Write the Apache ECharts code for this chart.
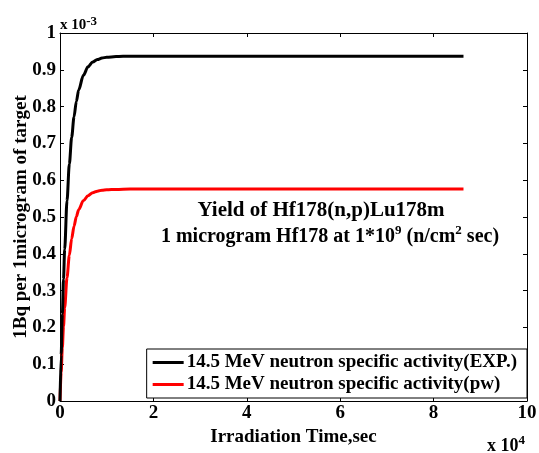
<!DOCTYPE html>
<html>
<head>
<meta charset="utf-8">
<script src="https://cdn.jsdelivr.net/npm/echarts@6/dist/echarts.min.js"></script>
<style>
  html, body { margin: 0; padding: 0; background: #fff; }
  #chart { width: 539px; height: 453px; }
</style>
</head>
<body>
<div id="chart"></div>
<script>
// Irradiation time, seconds
const timeSec = [0, 250, 500, 750, 1000, 1500, 2000, 2500, 3000, 3500, 4000, 5000, 6000, 7000,
  8000, 9000, 10000, 12000, 15000, 20000, 30000, 40000, 50000, 60000, 70000, 80000, 86400];

// Specific activity, in units of 10^-3 Bq per microgram of target
const activityExp = [0, 0.126, 0.236, 0.331, 0.412, 0.544, 0.644, 0.717, 0.772, 0.814, 0.845, 0.885, 0.908, 0.921,
  0.928, 0.932, 0.934, 0.936, 0.937, 0.937, 0.937, 0.937, 0.937, 0.937, 0.937, 0.937, 0.937];
const activityPw = [0, 0.078, 0.145, 0.203, 0.253, 0.335, 0.396, 0.441, 0.475, 0.501, 0.520, 0.544, 0.558, 0.566,
  0.570, 0.573, 0.574, 0.575, 0.576, 0.576, 0.576, 0.576, 0.576, 0.576, 0.576, 0.576, 0.576];

const seriesNames = [
  '14.5 MeV neutron specific activity(EXP.)',
  '14.5 MeV neutron specific activity(pw)'
];

const FONT = '"Liberation Serif", "Times New Roman", serif';

const chart = echarts.init(document.getElementById('chart'), null, { renderer: 'canvas' });

const pairs = (xs, ys) => xs.map((x, i) => [x, ys[i]]);

const axisCommon = {
  type: 'value',
  axisLine: { show: true, onZero: false, lineStyle: { color: '#000', width: 1 } },
  axisTick: { show: true, inside: true, length: 4, lineStyle: { color: '#000' } },
  splitLine: { show: false }
};

const labelStyle = { color: '#000', fontFamily: FONT, fontWeight: 'bold', fontSize: 19 };

const supText = (size, supSize) => ({
  b: { fontFamily: FONT, fontWeight: 'bold', fontSize: size, lineHeight: size + 6, fill: '#000' },
  s: { fontFamily: FONT, fontWeight: 'bold', fontSize: supSize, lineHeight: supSize + 2, verticalAlign: 'top', fill: '#000' }
});

chart.setOption({
  animation: false,
  backgroundColor: '#fff',
  grid: { left: 60, right: 12, top: 33, bottom: 52, containLabel: false, outerBoundsMode: 'none' },
  xAxis: [
    Object.assign({}, axisCommon, {
      position: 'bottom', min: 0, max: 100000, interval: 20000,
      axisLabel: Object.assign({}, labelStyle, { margin: 3, formatter: v => String(v / 10000) }),
      name: 'Irradiation Time,sec', nameLocation: 'middle', nameGap: 27, nameMoveOverlap: false,
      nameTextStyle: labelStyle
    }),
    Object.assign({}, axisCommon, {
      position: 'top', min: 0, max: 100000, interval: 20000,
      axisLabel: { show: false }
    })
  ],
  yAxis: [
    Object.assign({}, axisCommon, {
      position: 'left', min: 0, max: 1, interval: 0.1,
      axisLabel: Object.assign({}, labelStyle, { margin: 4, formatter: v => String(+v.toFixed(1)) }),
      name: '1Bq per 1microgram of target', nameLocation: 'middle', nameGap: 29, nameRotate: 90,
      nameMoveOverlap: false,
      nameTextStyle: labelStyle
    }),
    Object.assign({}, axisCommon, {
      position: 'right', min: 0, max: 1, interval: 0.1,
      axisLabel: { show: false }
    })
  ],
  legend: {
    orient: 'vertical',
    right: 12, top: 349,
    icon: 'rect', itemWidth: 31, itemHeight: 3, itemGap: 3,
    padding: [4, 10, 4, 6],
    borderColor: '#000', borderWidth: 1, backgroundColor: '#fff',
    textStyle: { color: '#000', fontFamily: FONT, fontWeight: 'bold', fontSize: 19, padding: [0, 0, 0, -2] },
    data: seriesNames
  },
  graphic: [
    {
      type: 'text', left: 60, top: 15,
      style: { text: '{b|x 10}{s|-3}', rich: supText(15, 13) }
    },
    {
      type: 'text', left: 487, top: 434,
      style: { text: '{b|x 10}{s|4}', rich: supText(18, 13) }
    },
    {
      type: 'text', x: 321, y: 211,
      style: {
        text: 'Yield of Hf178(n,p)Lu178m',
        fontFamily: FONT, fontWeight: 'bold', fontSize: 21, fill: '#000',
        align: 'center', verticalAlign: 'middle'
      }
    },
    {
      type: 'text', x: 330, y: 237,
      style: {
        text: '{b|1 microgram Hf178 at 1*10}{s|9}{b| (n/cm}{s|2}{b| sec)}',
        align: 'center', verticalAlign: 'middle',
        rich: supText(20, 13)
      }
    }
  ],
  series: [
    {
      name: seriesNames[0], type: 'line', xAxisIndex: 0, yAxisIndex: 0,
      data: pairs(timeSec, activityExp),
      showSymbol: false, symbol: 'none', smooth: 0.3, smoothMonotone: 'x',
      lineStyle: { color: '#000', width: 3 }, itemStyle: { color: '#000' }, z: 3
    },
    {
      name: seriesNames[1], type: 'line', xAxisIndex: 0, yAxisIndex: 0,
      data: pairs(timeSec, activityPw),
      showSymbol: false, symbol: 'none', smooth: 0.3, smoothMonotone: 'x',
      lineStyle: { color: '#ff0000', width: 3 }, itemStyle: { color: '#ff0000' }, z: 2
    }
  ]
});
</script>
</body>
</html>
